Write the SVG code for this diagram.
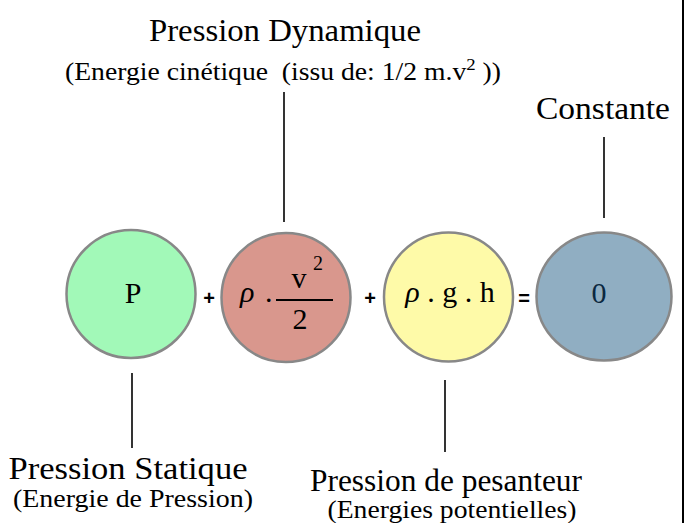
<svg xmlns="http://www.w3.org/2000/svg" width="686" height="523" viewBox="0 0 686 523">
<style>
text{font-family:'Liberation Serif','Times New Roman',serif}
.lbl{fill:#000;text-anchor:middle}
.big{font-size:31px}
.small{font-size:25px}
.math{font-size:30px;fill:#000}
.op{font-family:'Liberation Sans',Arial,sans-serif;font-weight:bold;font-size:20px;fill:#000;text-anchor:middle}
.node{stroke:#888;stroke-width:2.5}
.conn{stroke:#000;stroke-width:1.6;fill:none}
</style>
<rect x="0" y="0" width="686" height="523" fill="#fff"/>
<line x1="683" y1="0" x2="683" y2="523" stroke="#000" stroke-width="2"/>
<g id="connectors">
<line class="conn" x1="284" y1="92" x2="284" y2="222"/>
<line class="conn" x1="604" y1="137" x2="604" y2="218"/>
<line class="conn" x1="132" y1="373" x2="132" y2="448"/>
<line class="conn" x1="445" y1="380" x2="445" y2="452"/>
</g>
<g id="label-dynamique">
<text class="lbl big" x="285" y="41" textLength="272" lengthAdjust="spacingAndGlyphs">Pression Dynamique</text>
<text class="lbl small" x="283" y="80" textLength="436" lengthAdjust="spacingAndGlyphs">(Energie cinétique&#160; (issu de: 1/2 m.v<tspan font-size="17" dy="-10">2</tspan><tspan dy="10"> ))</tspan></text>
</g>
<g id="label-constante">
<text class="lbl big" x="603" y="119" textLength="134" lengthAdjust="spacingAndGlyphs">Constante</text>
</g>
<g id="label-statique">
<text class="lbl big" x="128" y="479" textLength="239" lengthAdjust="spacingAndGlyphs">Pression Statique</text>
<text class="lbl small" x="133" y="507" textLength="240" lengthAdjust="spacingAndGlyphs">(Energie de Pression)</text>
</g>
<g id="label-pesanteur">
<text class="lbl big" x="446" y="491" textLength="272" lengthAdjust="spacingAndGlyphs">Pression de pesanteur</text>
<text class="lbl small" x="452" y="518" textLength="249" lengthAdjust="spacingAndGlyphs">(Energies potentielles)</text>
</g>
<g id="node-p">
<ellipse class="node" cx="131" cy="294" rx="64.5" ry="64" fill="#a2f9b8"/>
<text class="math" x="133" y="303" text-anchor="middle">P</text>
</g>
<g id="op-plus1"><text class="op" x="209" y="305">+</text></g>
<g id="node-dyn">
<ellipse class="node" cx="286" cy="297.5" rx="64.5" ry="64.5" fill="#d9978d"/>
<text class="math" x="240" y="302" font-style="italic">ρ</text>
<text class="math" x="265" y="302">.</text>
<line x1="276" y1="300" x2="333" y2="300" stroke="#000" stroke-width="2"/>
<text class="math" x="299" y="288" text-anchor="middle">v</text>
<text class="math" x="313" y="270" style="font-size:20px">2</text>
<text class="math" x="300" y="329" text-anchor="middle">2</text>
</g>
<g id="op-plus2"><text class="op" x="370" y="305">+</text></g>
<g id="node-grav">
<ellipse class="node" cx="448.5" cy="297" rx="64.5" ry="64.5" fill="#fefaa8"/>
<text class="math" x="450" y="302" text-anchor="middle"><tspan font-style="italic">ρ</tspan> . g . h</text>
</g>
<g id="op-eq"><text class="op" x="524" y="305">=</text></g>
<g id="node-const">
<ellipse class="node" cx="604" cy="296.5" rx="67.5" ry="64" fill="#90aec2"/>
<text class="math" x="599" y="303" text-anchor="middle" style="fill:#0b2840">0</text>
</g>
</svg>
